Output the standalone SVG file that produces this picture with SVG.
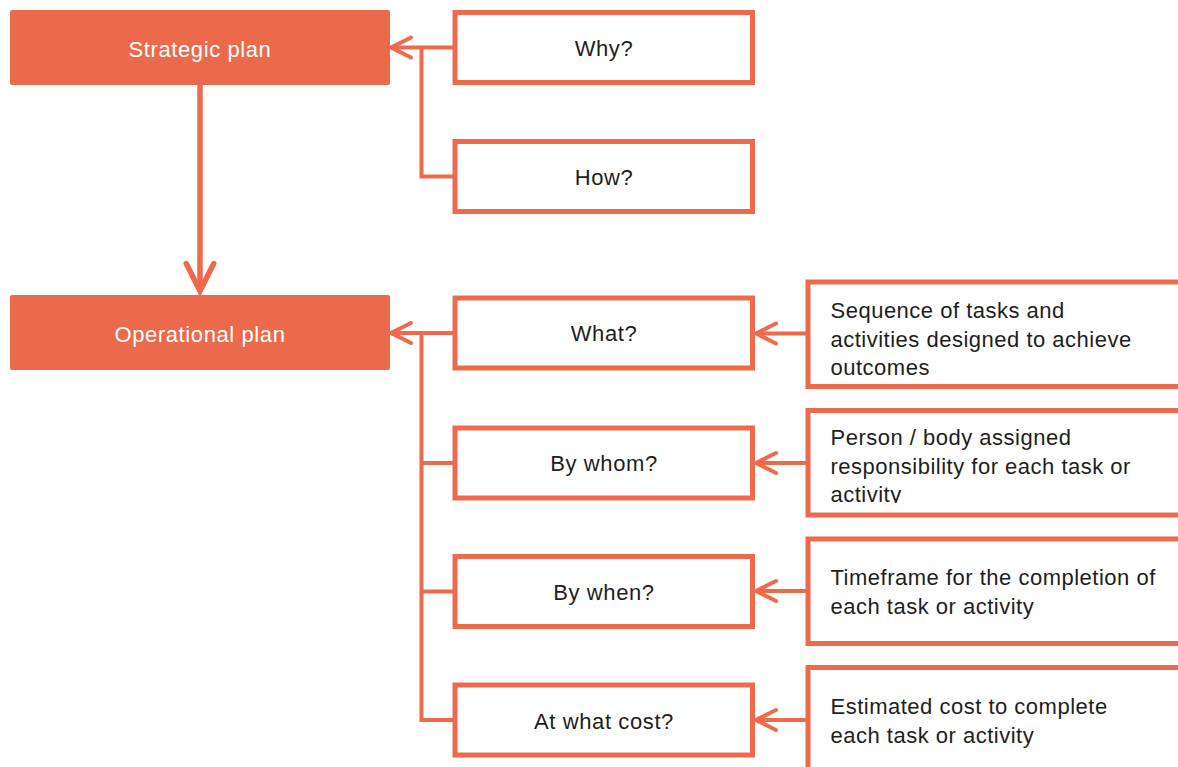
<svg xmlns="http://www.w3.org/2000/svg" width="1178" height="767" viewBox="0 0 1178 767">
<style>
.main{fill:#EC6A4C}
.box{fill:#fff;stroke:#EE6A4C;stroke-width:5}
.wt{fill:#fff;font-family:"Liberation Sans",Arial,sans-serif;font-size:22px;letter-spacing:0.6px;text-anchor:middle}
.qt{fill:#1e1e1e;font-family:"Liberation Sans",Arial,sans-serif;font-size:22px;letter-spacing:0.6px;text-anchor:middle}
.dt{fill:#1e1e1e;font-family:"Liberation Sans",Arial,sans-serif;font-size:22px;letter-spacing:0.5px}
.ln{fill:none;stroke:#EE6A4C;stroke-width:4;stroke-linejoin:miter}
</style>
<defs>
<marker id="arr" markerUnits="strokeWidth" viewBox="0 0 7 7" markerWidth="7" markerHeight="7" refX="6" refY="3.5" orient="auto" overflow="visible">
<path d="M1,1 L6,3.5 L1,6" fill="none" stroke="#EE6A4C" stroke-width="1" stroke-linecap="round" stroke-linejoin="miter"/>
</marker>
<clipPath id="clipP"><rect x="808" y="410" width="370" height="93"/></clipPath>
</defs>
<rect width="1178" height="767" fill="#fff"/>
<g id="connectors">
<path class="ln" d="M453,47.5 H391" marker-end="url(#arr)"/>
<path class="ln" d="M453,176.5 H421.5 V47.5"/>
<path class="ln" style="stroke-width:5.5" d="M200,85 V291" marker-end="url(#arr)"/>
<path class="ln" d="M453,333 H391" marker-end="url(#arr)"/>
<path class="ln" d="M421.5,333 V720 H453 M421.5,463 H453 M421.5,591.5 H453"/>
<path class="ln" d="M806,333.5 H756" marker-end="url(#arr)"/>
<path class="ln" d="M806,463 H756" marker-end="url(#arr)"/>
<path class="ln" d="M806,591 H756" marker-end="url(#arr)"/>
<path class="ln" d="M806,720 H756" marker-end="url(#arr)"/>
</g>
<g id="strategic">
<rect class="main" x="10" y="10" width="380" height="75" rx="2"/>
<text class="wt" x="200" y="56.5">Strategic plan</text>
</g>
<g id="operational">
<rect class="main" x="10" y="295" width="380" height="75" rx="2"/>
<text class="wt" x="200" y="341.5">Operational plan</text>
</g>
<g id="why">
<rect class="box" x="455" y="12.5" width="297.5" height="70"/>
<text class="qt" x="604" y="55.5">Why?</text>
</g>
<g id="how">
<rect class="box" x="455" y="141.5" width="297.5" height="70"/>
<text class="qt" x="604" y="184.5">How?</text>
</g>
<g id="what">
<rect class="box" x="455" y="298" width="297.5" height="70"/>
<text class="qt" x="604" y="341">What?</text>
</g>
<g id="bywhom">
<rect class="box" x="455" y="428" width="297.5" height="70"/>
<text class="qt" x="604" y="471">By whom?</text>
</g>
<g id="bywhen">
<rect class="box" x="455" y="556.5" width="297.5" height="70"/>
<text class="qt" x="604" y="599.5">By when?</text>
</g>
<g id="atwhatcost">
<rect class="box" x="455" y="685" width="297.5" height="70"/>
<text class="qt" x="604" y="728.5">At what cost?</text>
</g>
<g id="d-what">
<rect class="box" x="808" y="282" width="420" height="104.5"/>
<text class="dt" x="830.5" y="318">Sequence of tasks and</text>
<text class="dt" x="830.5" y="346.5">activities designed to achieve</text>
<text class="dt" x="830.5" y="374.5">outcomes</text>
</g>
<g id="d-bywhom">
<rect class="box" x="808" y="410.5" width="420" height="104.5"/>
<g clip-path="url(#clipP)">
<text class="dt" x="830.5" y="445">Person / body assigned</text>
<text class="dt" x="830.5" y="473.5">responsibility for each task or</text>
<text class="dt" x="830.5" y="501.5">activity</text>
</g>
</g>
<g id="d-bywhen">
<rect class="box" x="808" y="539" width="420" height="104.5"/>
<text class="dt" x="830.5" y="585">Timeframe for the completion of</text>
<text class="dt" x="830.5" y="613.5">each task or activity</text>
</g>
<g id="d-cost">
<rect class="box" x="808" y="667.5" width="420" height="104.5"/>
<text class="dt" x="830.5" y="713.5">Estimated cost to complete</text>
<text class="dt" x="830.5" y="742.5">each task or activity</text>
</g>
</svg>
